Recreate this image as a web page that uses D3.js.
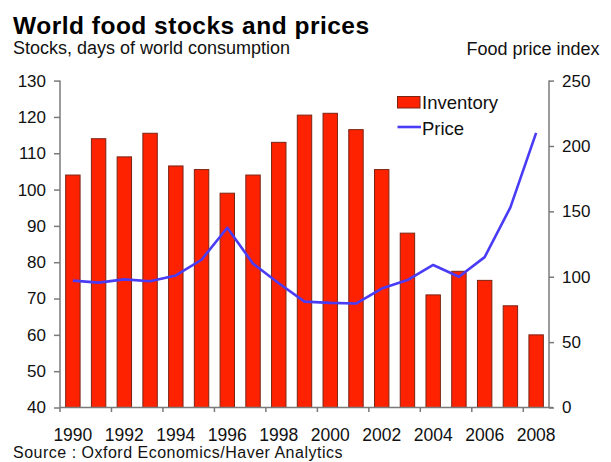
<!DOCTYPE html>
<html>
<head>
<meta charset="utf-8">
<script src="https://cdn.jsdelivr.net/npm/d3@7"></script>
<style>
  html, body { margin: 0; padding: 0; background: #fff; }
  svg { display: block; font-family: "Liberation Sans", Arial, sans-serif; }
</style>
</head>
<body>
<svg id="chart" width="611" height="462"></svg>
<script>
// World food stocks (days of consumption) and food price index, 1990-2008
const years = [1990, 1991, 1992, 1993, 1994, 1995, 1996, 1997, 1998, 1999,
               2000, 2001, 2002, 2003, 2004, 2005, 2006, 2007, 2008];
const inventory = [104, 114, 109, 115.5, 106.5, 105.5, 99, 104, 113, 120.5,
                   121, 116.5, 105.5, 88, 71, 77.5, 75, 68, 60];
const price = [97, 95.5, 98, 96.5, 101, 113, 137.5, 110, 95, 81,
               80, 79.5, 91, 97.5, 109, 100, 115, 153, 210];
const leftTicks = [40, 50, 60, 70, 80, 90, 100, 110, 120, 130];
const rightTicks = [0, 50, 100, 150, 200, 250];
const yearLabels = [1990, 1992, 1994, 1996, 1998, 2000, 2002, 2004, 2006, 2008];

const svg = d3.select("#chart");
const plotL = 60, plotR = 549, plotT = 80.6, plotB = 407.5;
const axisColor = "#7a7a7a";
const textColor = "#111";

const x = d3.scaleBand().domain(years).range([plotL, plotR]).padding(0);
const yL = d3.scaleLinear().domain([40, 130]).range([plotB, plotT]);
const yR = d3.scaleLinear().domain([0, 250]).range([plotB, plotT]);
const barW = x.bandwidth() * 0.56;

// Title and axis captions
svg.append("text").attr("x", 13).attr("y", 33.5)
  .attr("font-size", 24.5).attr("font-weight", "bold").attr("fill", "#000")
  .attr("letter-spacing", 0.5)
  .text("World food stocks and prices");
svg.append("text").attr("x", 13).attr("y", 53.5)
  .attr("font-size", 18).attr("fill", textColor)
  .text("Stocks, days of world consumption");
svg.append("text").attr("x", 599.5).attr("y", 54.5).attr("text-anchor", "end")
  .attr("font-size", 18).attr("fill", textColor)
  .text("Food price index");

// Bars
svg.append("g").selectAll("rect").data(years).join("rect")
  .attr("x", (d) => x(d) + (x.bandwidth() - barW) / 2)
  .attr("y", (d, i) => yL(inventory[i]))
  .attr("width", barW)
  .attr("height", (d, i) => plotB - yL(inventory[i]))
  .attr("fill", "#ff2200")
  .attr("stroke", "#7a2414")
  .attr("stroke-width", 1);

// Price line
const line = d3.line()
  .x((d, i) => x(years[i]) + x.bandwidth() / 2)
  .y((d) => yR(d));
svg.append("path").datum(price)
  .attr("d", line)
  .attr("fill", "none")
  .attr("stroke", "#4a3cf5")
  .attr("stroke-width", 2.6)
  .attr("stroke-linejoin", "round");

// Left axis
const gL = svg.append("g").attr("transform", `translate(${plotL},0)`)
  .call(d3.axisLeft(yL).tickValues(leftTicks).tickSize(6).tickPadding(8));
// Right axis
const gR = svg.append("g").attr("transform", `translate(${plotR},0)`)
  .call(d3.axisRight(yR).tickValues(rightTicks).tickSize(5).tickPadding(8));
[gL, gR].forEach((g) => {
  g.select(".domain").attr("stroke", axisColor).attr("stroke-width", 1.5)
    .attr("d", `M0,${plotT}V${plotB}`);
  g.selectAll(".tick line").attr("stroke", axisColor).attr("stroke-width", 1.5);
  g.selectAll(".tick text").attr("font-size", 17).attr("fill", textColor)
    .attr("font-family", "Liberation Sans, Arial, sans-serif");
});

// Bottom axis: baseline, ticks every two years, labels under the even years
svg.append("line")
  .attr("x1", plotL).attr("x2", plotR + 4)
  .attr("y1", plotB).attr("y2", plotB)
  .attr("stroke", axisColor).attr("stroke-width", 1.5);
const gB = svg.append("g");
gB.selectAll("line").data(yearLabels).join("line")
  .attr("x1", (d) => x(d)).attr("x2", (d) => x(d))
  .attr("y1", plotB).attr("y2", plotB + 4.5)
  .attr("stroke", axisColor).attr("stroke-width", 1.5);
gB.selectAll("text").data(yearLabels).join("text")
  .attr("x", (d) => x(d) + x.bandwidth() / 2)
  .attr("y", 440.5)
  .attr("text-anchor", "middle")
  .attr("font-size", 17.5).attr("fill", textColor)
  .text((d) => d);

// Source note
svg.append("text").attr("x", 13).attr("y", 457.5)
  .attr("font-size", 16).attr("fill", textColor)
  .attr("letter-spacing", 0.5)
  .text("Source : Oxford Economics/Haver Analytics");

// Legend
const lg = svg.append("g");
lg.append("rect").attr("x", 397.5).attr("y", 96.5).attr("width", 22.5).attr("height", 11.5)
  .attr("fill", "#ff2200").attr("stroke", "#7a2414").attr("stroke-width", 1);
lg.append("text").attr("x", 422).attr("y", 109).attr("font-size", 18.5).attr("fill", textColor)
  .text("Inventory");
lg.append("line").attr("x1", 397.5).attr("x2", 421).attr("y1", 127).attr("y2", 127)
  .attr("stroke", "#4a3cf5").attr("stroke-width", 2.6);
lg.append("text").attr("x", 422).attr("y", 135).attr("font-size", 18.5).attr("fill", textColor)
  .text("Price");
</script>
</body>
</html>
